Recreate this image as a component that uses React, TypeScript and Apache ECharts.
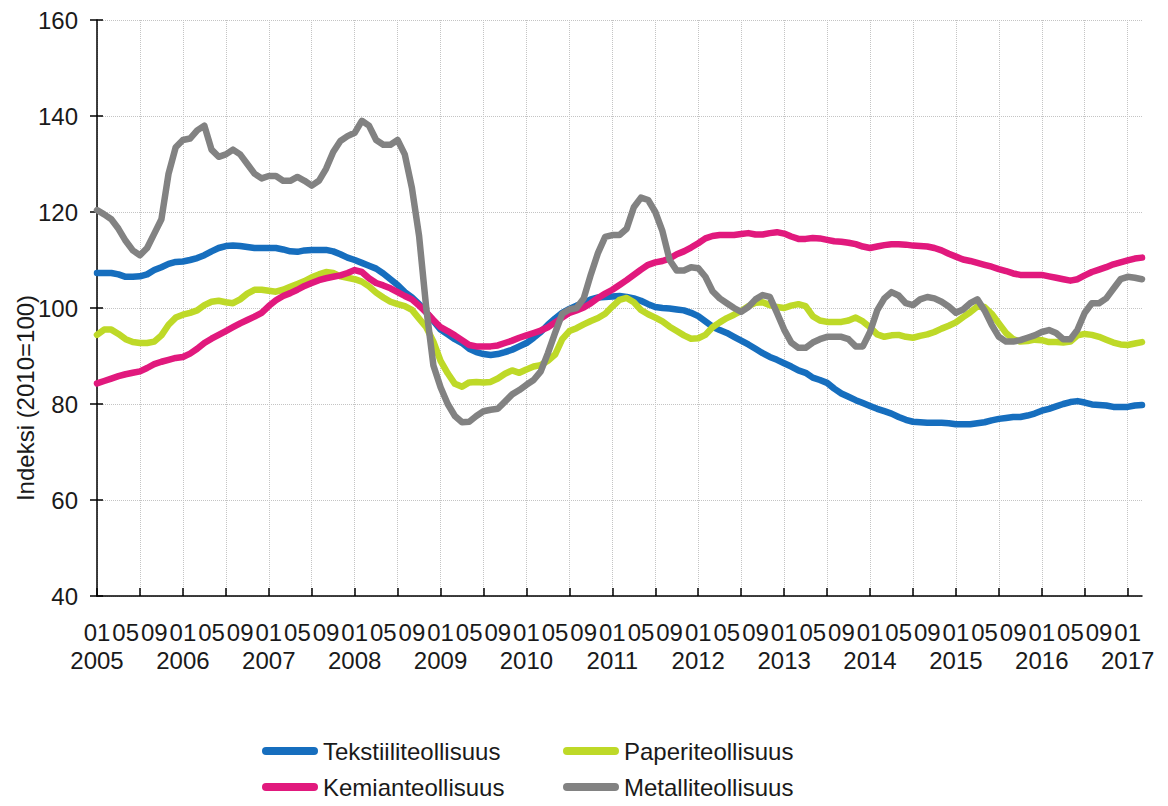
import React, { useEffect, useRef } from "react";
import * as echarts from "echarts";

const startYear = 2005;
const monthCount = 147; // 2005-01 .. 2017-03

const tekstiili = [
  107.3, 107.3, 107.3, 107, 106.5, 106.5, 106.6, 107, 107.9, 108.5, 109.2, 109.6,
  109.7, 110, 110.4, 111, 111.8, 112.5, 112.9, 113, 112.9, 112.7, 112.5, 112.5,
  112.5, 112.5, 112.2, 111.8, 111.7, 112, 112.1, 112.1, 112.1, 111.8, 111.2, 110.5,
  110, 109.4, 108.8, 108.2, 107.2, 106, 104.8, 103.3, 102.2, 100.8, 99.1, 97.3,
  95.5, 94.5, 93.5, 92.7, 91.5, 90.8, 90.4, 90.2, 90.4, 90.8, 91.3, 92,
  92.7, 93.8, 95, 96.5, 97.8, 99, 99.8, 100.5, 101, 101.8, 102.2, 102.3,
  102.4, 102.5, 102.3, 102, 101.5, 100.8, 100.2, 100, 99.9, 99.7, 99.5, 99,
  98.3, 97.2, 96.1, 95.4, 94.8, 94, 93.2, 92.4, 91.5, 90.6, 89.8, 89.2,
  88.5, 87.8, 87, 86.5, 85.5, 85, 84.4, 83.2, 82.2, 81.5, 80.8, 80.2,
  79.6, 79, 78.5, 78, 77.3, 76.7, 76.3, 76.2, 76.1, 76.1, 76.1, 76,
  75.8, 75.8, 75.8, 76, 76.2, 76.6, 76.9, 77.1, 77.3, 77.3, 77.6, 78,
  78.6, 79, 79.5, 80, 80.4, 80.6, 80.3, 79.9, 79.8, 79.7, 79.4, 79.4,
  79.4, 79.7, 79.8,
];

const paperi = [
  94.4, 95.5, 95.5, 94.6, 93.5, 92.9, 92.7, 92.7, 93, 94.3, 96.5, 98,
  98.6, 99, 99.5, 100.6, 101.3, 101.5, 101.2, 101, 101.8, 103, 103.8, 103.8,
  103.6, 103.4, 103.8, 104.4, 105, 105.6, 106.4, 107, 107.5, 107.3, 106.6, 106.3,
  106, 105.5, 104.5, 103.2, 102.2, 101.3, 100.8, 100.4, 99.6, 97.8, 96, 93,
  89, 86.4, 84.2, 83.6, 84.5, 84.6, 84.5, 84.6, 85.3, 86.3, 87, 86.5,
  87.2, 87.8, 88.1, 89, 90.3, 93.5, 95.2, 95.8, 96.6, 97.3, 97.9, 98.8,
  100.3, 101.7, 102.1, 101.2, 99.6, 98.7, 98, 97.2, 96.1, 95.2, 94.3, 93.6,
  93.7, 94.4, 96, 97, 97.9, 98.6, 99.4, 100.4, 101.1, 101.2, 100.6, 100.2,
  100, 100.5, 100.8, 100.4, 98.3, 97.4, 97.1, 97.1, 97.1, 97.4, 98, 97.2,
  96, 94.5, 94, 94.3, 94.4, 94, 93.8, 94.2, 94.5, 95, 95.7, 96.3,
  97, 98.1, 99.1, 100.3, 100.2, 98.8, 96.8, 94.8, 93.5, 93, 93.1, 93.4,
  93.3, 92.9, 92.9, 92.8, 93, 94.3, 94.6, 94.4, 94, 93.4, 92.8, 92.4,
  92.3, 92.6, 92.9,
];

const kemian = [
  84.3, 84.8, 85.3, 85.8, 86.2, 86.5, 86.8, 87.5, 88.3, 88.8, 89.2, 89.6,
  89.8, 90.5, 91.5, 92.7, 93.6, 94.4, 95.2, 96, 96.8, 97.5, 98.2, 99,
  100.4, 101.6, 102.5, 103.1, 103.8, 104.6, 105.2, 105.8, 106.2, 106.5, 106.8, 107.3,
  107.9, 107.5, 106.2, 105.2, 104.7, 104.1, 103.3, 102.5, 101.8, 100.5, 99.1, 97.5,
  96, 95.2, 94.3, 93.3, 92.3, 92, 92, 92, 92.2, 92.7, 93.2, 93.8,
  94.3, 94.8, 95.3, 96, 97, 98, 99, 99.5, 100.1, 101, 102.1, 103,
  103.8, 104.8, 105.8, 106.9, 108, 109, 109.5, 109.8, 110.3, 111.2, 111.8, 112.6,
  113.5, 114.5, 115, 115.2, 115.2, 115.2, 115.4, 115.6, 115.3, 115.3, 115.6, 115.8,
  115.5, 114.9, 114.4, 114.4, 114.6, 114.5, 114.2, 113.9, 113.8, 113.6, 113.3, 112.8,
  112.5, 112.8, 113.1, 113.3, 113.3, 113.2, 113, 112.9, 112.8, 112.5, 112, 111.3,
  110.7, 110.1, 109.8, 109.4, 109, 108.6, 108.1, 107.7, 107.2, 106.9, 106.9, 106.9,
  106.9, 106.6, 106.3, 106, 105.7, 106, 106.8, 107.5, 108, 108.5, 109.1, 109.5,
  109.9, 110.3, 110.5,
];

const metalli = [
  120.4, 119.5, 118.5, 116.5, 114, 112, 111, 112.5, 115.5, 118.5, 128, 133.5,
  135, 135.3, 137, 138, 133, 131.5, 132, 133, 132, 130, 128, 127,
  127.5, 127.5, 126.5, 126.5, 127.3, 126.5, 125.5, 126.5, 129, 132.5, 134.8, 135.8,
  136.5, 139, 138, 135, 134, 134, 135, 132, 125, 115, 100, 88,
  83.5, 80, 77.5, 76.2, 76.3, 77.5, 78.5, 78.8, 79, 80.5, 82, 82.9,
  84, 85, 86.8, 90.6, 94.8, 98.8, 99.7, 100, 102, 107, 111.5, 114.8,
  115.2, 115.2, 116.5, 121, 123, 122.5, 120, 116, 110, 107.8, 107.8, 108.5,
  108.3, 106.5, 103.5, 102, 101, 100, 99.2, 100.2, 101.8, 102.7, 102.3, 99,
  95.5, 92.8, 91.7, 91.7, 92.8, 93.5, 94, 94, 94, 93.5, 92, 92,
  95, 99.5, 102, 103.3, 102.6, 101, 100.6, 101.8, 102.3, 102, 101.3, 100.3,
  99, 99.7, 101, 101.8, 99.5, 96.5, 94, 93, 93, 93.3, 93.8, 94.3,
  95, 95.4, 94.8, 93.5, 93.5, 95.5, 99, 101, 101, 102, 104, 106,
  106.5, 106.3, 106,
];

const seriesNames = [
  "Tekstiiliteollisuus",
  "Paperiteollisuus",
  "Kemianteollisuus",
  "Metalliteollisuus",
];
const seriesColors = ["#166ebe", "#bed928", "#e1197d", "#828282"];
const yTicks = { min: 40, max: 160, step: 20 };

const categories: string[] = [];
for (let i = 0; i < monthCount; i++) {
  const y = startYear + Math.floor(i / 12);
  const m = (i % 12) + 1;
  categories.push(`${y}-${m < 10 ? "0" + m : m}`);
}

const FONT = "'Liberation Sans', Arial, sans-serif";
const TXT = "#1a1a1a";
const FS = 24;
const legendIcon = "path://M4,0H52A4,4,0,0,1,52,8H4A4,4,0,0,1,4,0Z";

// legend placement: [series index, left, top]
const legendSlots: [number, number, number][] = [
  [0, 262, 739],
  [2, 262, 775],
  [1, 563, 739],
  [3, 563, 775],
];

export default function App() {
  const ref = useRef<HTMLDivElement>(null);
  useEffect(() => {
    document.body.style.margin = "0";
    const chart = echarts.init(ref.current!, null, { renderer: "svg" });
    const dataSets = [tekstiili, paperi, kemian, metalli];
    const gridLine = { color: "#c4c4c4", type: "dotted", width: 1 };
    chart.setOption({
      animation: false,
      backgroundColor: "#ffffff",
      textStyle: { fontFamily: FONT },
      grid: { left: 97, top: 20, right: 26, bottom: 210, containLabel: false },
      xAxis: [
        {
          type: "category",
          data: categories,
          boundaryGap: false,
          axisLine: { show: true, lineStyle: { color: "#000", width: 1.5 } },
          axisTick: {
            show: true,
            inside: true,
            length: 8,
            interval: (i: number) => i % 6 === 0,
            lineStyle: { color: "#000", width: 1.5 },
          },
          splitLine: {
            show: true,
            interval: (i: number) => i % 6 === 0,
            lineStyle: gridLine,
          },
          axisLabel: {
            interval: (i: number) => i % 4 === 0,
            showMinLabel: true,
            margin: 24,
            fontSize: FS,
            color: TXT,
            fontFamily: FONT,
            formatter: (v: string) => v.split("-")[1],
          },
        },
        {
          type: "category",
          data: categories,
          boundaryGap: false,
          position: "bottom",
          axisLine: { show: false },
          axisTick: { show: false },
          splitLine: { show: false },
          axisLabel: {
            interval: (i: number) => i % 12 === 0,
            showMinLabel: true,
            margin: 52,
            fontSize: FS,
            color: TXT,
            fontFamily: FONT,
            formatter: (v: string) => v.split("-")[0],
          },
        },
      ],
      yAxis: [
        {
          type: "value",
          min: yTicks.min,
          max: yTicks.max,
          interval: yTicks.step,
          axisLine: { show: true, lineStyle: { color: "#000", width: 1.5 } },
          axisTick: { show: true, length: 7, lineStyle: { color: "#000", width: 1.5 } },
          splitLine: { show: true, lineStyle: gridLine },
          axisLabel: { margin: 19, fontSize: FS, color: TXT, fontFamily: FONT },
        },
        {
          type: "value",
          min: yTicks.min,
          max: yTicks.max,
          interval: yTicks.step,
          position: "left",
          axisLine: { show: false },
          axisTick: { show: true, inside: true, length: 6, lineStyle: { color: "#000", width: 1.5 } },
          splitLine: { show: false },
          axisLabel: { show: false },
        },
      ],
      legend: legendSlots.map(([k, left, top]) => ({
        data: [seriesNames[k]],
        orient: "horizontal",
        left,
        top,
        padding: 0,
        itemWidth: 56,
        itemHeight: 8,
        icon: legendIcon,
        textStyle: { fontSize: FS, color: TXT, fontFamily: FONT },
      })),
      graphic: [
        {
          type: "text",
          x: 25,
          y: 398,
          rotation: Math.PI / 2,
          style: {
            text: "Indeksi (2010=100)",
            fontSize: FS,
            fontFamily: FONT,
            fill: TXT,
            align: "center",
            verticalAlign: "middle",
          },
        },
      ],
      series: dataSets.map((d, k) => ({
        name: seriesNames[k],
        type: "line",
        data: d,
        showSymbol: false,
        symbol: "none",
        lineStyle: { width: 6.5, color: seriesColors[k], cap: "round", join: "round" },
        itemStyle: { color: seriesColors[k] },
        z: 2 + k,
      })),
    });
    return () => chart.dispose();
  }, []);
  return <div ref={ref} style={{ width: 1168, height: 806 }} />;
}
